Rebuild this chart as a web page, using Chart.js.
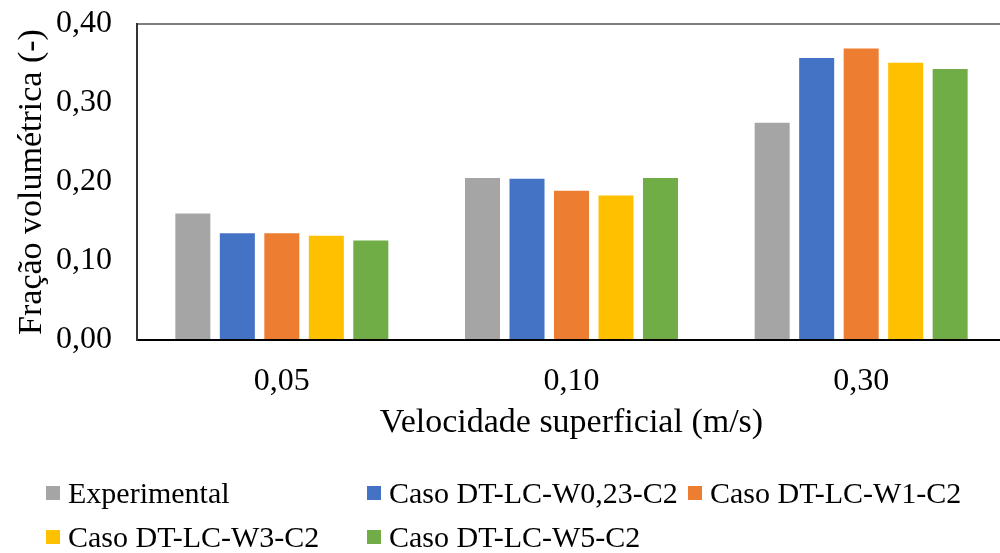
<!DOCTYPE html>
<html lang="pt">
<head>
<meta charset="utf-8">
<title>Fração volumétrica</title>
<script src="https://cdn.jsdelivr.net/npm/chart.js@4/dist/chart.umd.min.js"></script>
<style>
  html, body { margin: 0; padding: 0; overflow: hidden; background: #fff; width: 1000px; height: 553px; }
  #wrap { position: relative; width: 1006px; height: 553px; }
  #c { display: block; }
  #legend {
    position: absolute; left: 46px; top: 471px;
    display: grid; grid-template-columns: 321px 321px 321px; grid-auto-rows: 44px;
    font-family: "Liberation Serif", "Times New Roman", serif; font-size: 30px; color: #000;
  }
  .item { display: flex; align-items: center; white-space: nowrap; }
  .box { width: 14px; height: 14px; margin-right: 8px; flex: none; }
</style>
</head>
<body>
<div id="wrap">
  <canvas id="c" width="1006" height="553"></canvas>
  <div id="legend"></div>
</div>
<script>
// Superficial velocity categories (m/s)
const categories = ['0,05', '0,10', '0,30'];

// Gas volume fraction per case
const experimental = [0.160, 0.205, 0.275];
const casoW023     = [0.135, 0.204, 0.357];
const casoW1       = [0.135, 0.189, 0.369];
const casoW3       = [0.132, 0.183, 0.351];
const casoW5       = [0.126, 0.205, 0.343];

const seriesNames = [
  'Experimental',
  'Caso DT-LC-W0,23-C2',
  'Caso DT-LC-W1-C2',
  'Caso DT-LC-W3-C2',
  'Caso DT-LC-W5-C2'
];
const seriesValues = [experimental, casoW023, casoW1, casoW3, casoW5];
const seriesColors = ['#A5A5A5', '#4472C4', '#ED7D31', '#FFC000', '#70AD47'];

const yTicks = [0, 0.1, 0.2, 0.3, 0.4];

const FONT = '"Liberation Serif", "Times New Roman", serif';
const fmt = v => Number(v).toFixed(2).replace('.', ',');

const datasets = seriesNames.map((name, i) => ({
  label: name,
  data: seriesValues[i],
  backgroundColor: seriesColors[i],
  borderWidth: 0,
  barPercentage: 0.787,
  categoryPercentage: 0.768
}));

const chart = new Chart(document.getElementById('c'), {
  type: 'bar',
  data: { labels: categories, datasets },
  options: {
    responsive: false,
    animation: false,
    layout: { padding: { top: 24, right: 0, bottom: 0, left: 0 } },
    plugins: {
      legend: { display: false },
      tooltip: { enabled: false }
    },
    scales: {
      x: {
        grid: { color: 'rgba(0,0,0,0)', drawTicks: false },
        border: { display: true, color: '#000', width: 2 },
        ticks: { font: { family: FONT, size: 32 }, color: '#000', padding: 22 },
        title: {
          display: true,
          text: 'Velocidade superficial (m/s)',
          font: { family: FONT, size: 34 },
          color: '#000',
          padding: { top: 0, bottom: 110 }
        },
        afterFit(s) { s.height = 213; }
      },
      y: {
        min: 0,
        max: 0.4,
        afterBuildTicks(s) { s.ticks = yTicks.map(v => ({ value: v })); },
        grid: {
          drawTicks: false,
          lineWidth: 2,
          color: ctx => (ctx.tick && Math.abs(ctx.tick.value - 0.4) < 1e-9) ? '#7F7F7F' : 'rgba(0,0,0,0)'
        },
        border: { display: true, color: '#333', width: 2 },
        ticks: {
          font: { family: FONT, size: 32 },
          color: '#000',
          padding: 25,
          callback: v => fmt(v)
        },
        title: {
          display: true,
          text: 'Fração volumétrica (-)',
          font: { family: FONT, size: 34 },
          color: '#000',
          padding: { top: 12, bottom: 0 }
        },
        afterFit(s) {
          s.width = 137;
          s.paddingTop = 0;
          s.paddingBottom = 0;
        }
      }
    }
  }
});

// Legend built from the chart's own legend items
const legendEl = document.getElementById('legend');
const items = Chart.defaults.plugins.legend.labels.generateLabels(chart);
items.forEach(it => {
  const d = document.createElement('div');
  d.className = 'item';
  const b = document.createElement('span');
  b.className = 'box';
  b.style.background = it.fillStyle;
  const t = document.createElement('span');
  t.textContent = it.text;
  d.appendChild(b);
  d.appendChild(t);
  legendEl.appendChild(d);
});
</script>
</body>
</html>
